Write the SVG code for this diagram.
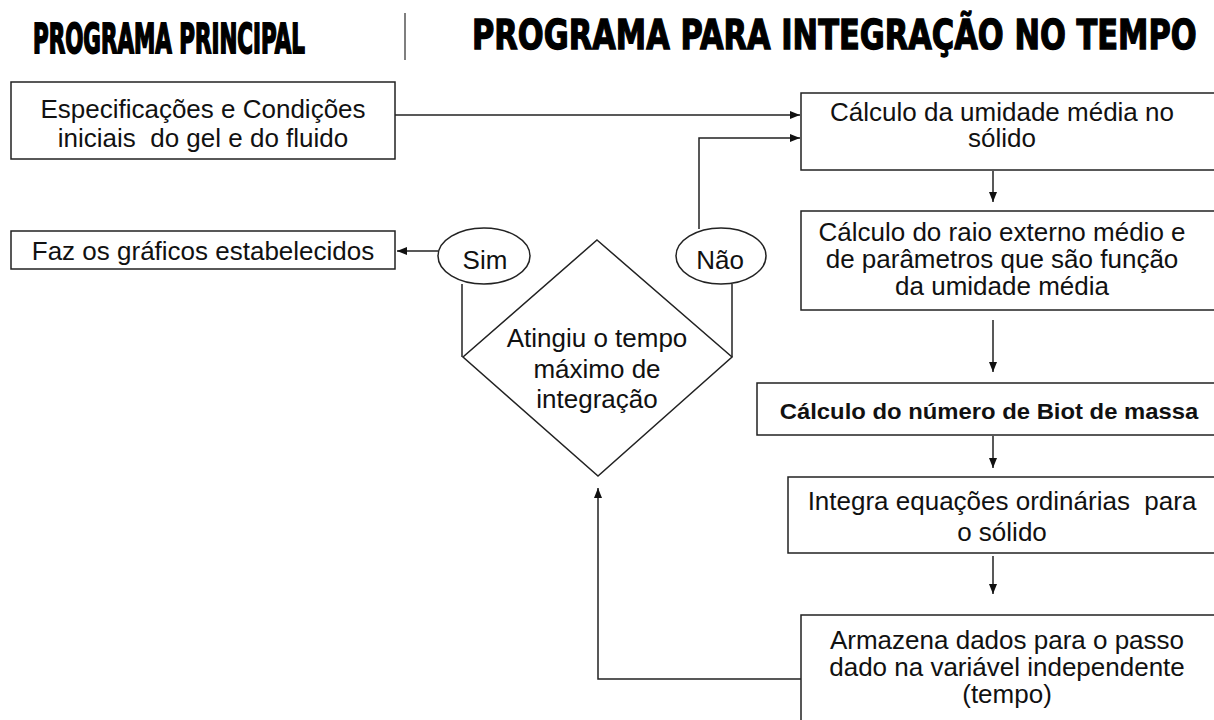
<svg xmlns="http://www.w3.org/2000/svg" width="1214" height="720" viewBox="0 0 1214 720">
<style>
  .box { fill: #fff; stroke: #222; stroke-width: 1.5; }
  .shape { fill: #fff; stroke: #222; stroke-width: 1.5; }
  .conn { fill: none; stroke: #222; stroke-width: 1.5; }
  .t { font-family: "Liberation Sans", Arial, sans-serif; font-size: 25px; fill: #111; text-anchor: middle; }
  .tb { font-family: "Liberation Sans", Arial, sans-serif; font-size: 22.5px; font-weight: bold; fill: #111; text-anchor: middle; }
  .title { font-family: "DejaVu Sans", "Liberation Sans", sans-serif; font-weight: bold; fill: #000; stroke: #000; }
</style>
<defs>
  <marker id="arr" viewBox="0 0 10 8" refX="10" refY="4" markerWidth="10" markerHeight="8" markerUnits="userSpaceOnUse" orient="auto">
    <path d="M0,0 L10,4 L0,8 z" fill="#111"/>
  </marker>
</defs>
<rect width="1214" height="720" fill="#fff"/>

<g id="titles">
  <text class="title" transform="translate(33 53) scale(0.531 1)" x="0" y="0" font-size="40" stroke-width="2" textLength="512" lengthAdjust="spacingAndGlyphs">PROGRAMA PRINCIPAL</text>
  <line x1="405" y1="13" x2="405" y2="60" stroke="#555" stroke-width="1.5"/>
  <text class="title" transform="translate(472 49) scale(0.741 1)" x="0" y="0" font-size="41" stroke-width="1.4" textLength="978" lengthAdjust="spacingAndGlyphs">PROGRAMA PARA INTEGRAÇÃO NO TEMPO</text>
</g>

<g id="connectors">
  <line class="conn" x1="395" y1="115" x2="800" y2="115" marker-end="url(#arr)"/>
  <polyline class="conn" points="699,229 699,138 800,138" marker-end="url(#arr)"/>
  <line class="conn" x1="993" y1="171" x2="993" y2="202" marker-end="url(#arr)"/>
  <line class="conn" x1="993" y1="320" x2="993" y2="372" marker-end="url(#arr)"/>
  <line class="conn" x1="993" y1="436" x2="993" y2="468" marker-end="url(#arr)"/>
  <line class="conn" x1="993" y1="556" x2="993" y2="594" marker-end="url(#arr)"/>
  <polyline class="conn" points="801,679 598,679 598,488" marker-end="url(#arr)"/>
  <line class="conn" x1="438" y1="251" x2="397" y2="251" marker-end="url(#arr)"/>
  <line class="conn" x1="462" y1="284" x2="462" y2="357"/>
  <line class="conn" x1="732" y1="284" x2="732" y2="357"/>
</g>

<g id="node-especificacoes">
  <rect class="box" x="11" y="82" width="384" height="77"/>
  <g transform="translate(203 0) scale(1.04 1)">
    <text class="t" x="0" y="118">Especificações e Condições</text>
    <text class="t" x="0" y="147" xml:space="preserve">iniciais  do gel e do fluido</text>
  </g>
</g>

<g id="node-graficos">
  <rect class="box" x="11" y="231" width="384" height="38"/>
  <g transform="translate(203 0) scale(1.04 1)">
    <text class="t" x="0" y="260">Faz os gráficos estabelecidos</text>
  </g>
</g>

<g id="node-sim">
  <ellipse class="shape" cx="484" cy="256" rx="46" ry="28"/>
  <g transform="translate(485 0) scale(1.04 1)">
    <text class="t" x="0" y="269">Sim</text>
  </g>
</g>

<g id="node-nao">
  <ellipse class="shape" cx="721" cy="256" rx="45" ry="28"/>
  <g transform="translate(720 0) scale(1.04 1)">
    <text class="t" x="0" y="269">Não</text>
  </g>
</g>

<g id="node-decisao">
  <polygon class="shape" points="597,240 732,357 598,476 463,357"/>
  <g transform="translate(597 0) scale(1.04 1)">
    <text class="t" x="0" y="347">Atingiu o tempo</text>
    <text class="t" x="0" y="378">máximo de</text>
    <text class="t" x="0" y="408">integração</text>
  </g>
</g>

<g id="node-umidade">
  <rect class="box" x="801" y="93" width="420" height="77"/>
  <g transform="translate(1002 0) scale(1.04 1)">
    <text class="t" x="0" y="121">Cálculo da umidade média no</text>
    <text class="t" x="0" y="147">sólido</text>
  </g>
</g>

<g id="node-raio">
  <rect class="box" x="801" y="211" width="420" height="99"/>
  <g transform="translate(1002 0) scale(1.04 1)">
    <text class="t" x="0" y="241">Cálculo do raio externo médio e</text>
    <text class="t" x="0" y="268">de parâmetros que são função</text>
    <text class="t" x="0" y="295">da umidade média</text>
  </g>
</g>

<g id="node-biot">
  <rect class="box" x="757" y="383" width="464" height="52"/>
  <g transform="translate(989 0) scale(1.06 1)">
    <text class="tb" x="0" y="419">Cálculo do número de Biot de massa</text>
  </g>
</g>

<g id="node-integra">
  <rect class="box" x="788" y="477" width="433" height="76"/>
  <g transform="translate(1002 0) scale(1.04 1)">
    <text class="t" x="0" y="510" xml:space="preserve">Integra equações ordinárias  para</text>
    <text class="t" x="0" y="541">o sólido</text>
  </g>
</g>

<g id="node-armazena">
  <rect class="box" x="801" y="615" width="420" height="120"/>
  <g transform="translate(1007 0) scale(1.04 1)">
    <text class="t" x="0" y="649">Armazena dados para o passo</text>
    <text class="t" x="0" y="676">dado na variável independente</text>
    <text class="t" x="0" y="703">(tempo)</text>
  </g>
</g>
</svg>
